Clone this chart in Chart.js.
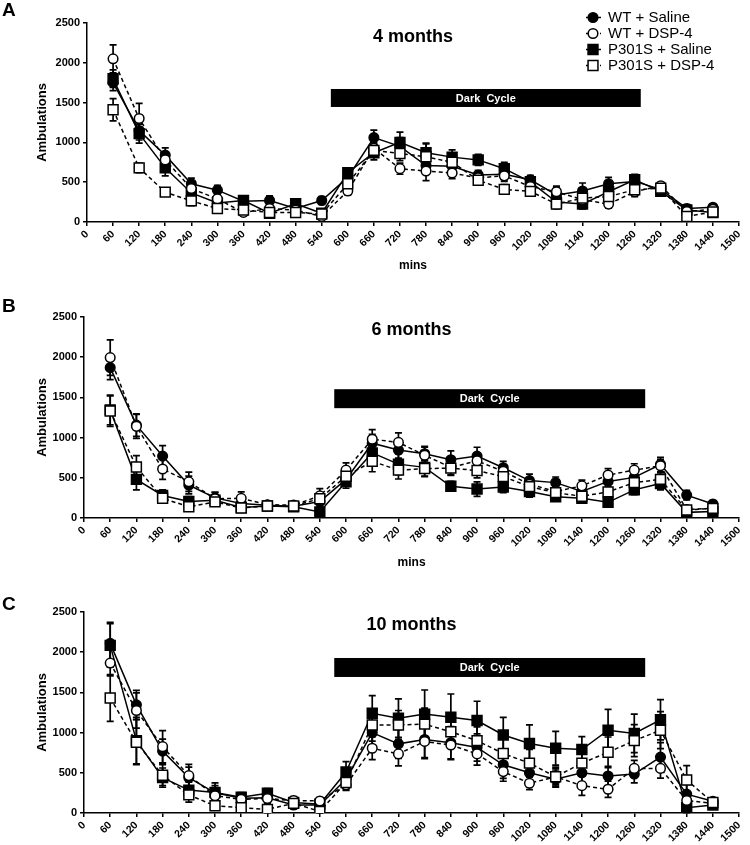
<!DOCTYPE html>
<html><head><meta charset="utf-8">
<script src="https://cdn.jsdelivr.net/npm/chart.js@4/dist/chart.umd.min.js"></script>
<style>
body{margin:0;background:#fff;width:750px;height:845px;overflow:hidden;position:relative}
canvas{position:absolute;left:0}
</style></head><body>
<canvas id="cA" width="750" height="282" style="top:0px"></canvas>
<canvas id="cB" width="750" height="295" style="top:282px"></canvas>
<canvas id="cC" width="750" height="268" style="top:577px"></canvas>
<script>
// ---- data ----
const times = [60,120,180,240,300,360,420,480,540,600,660,720,780,840,900,960,1020,1080,1140,1200,1260,1320,1380,1440];
const seriesLabels = ['WT + Saline','WT + DSP-4','P301S + Saline','P301S + DSP-4'];
const panelTitles = ['4 months','6 months','10 months'];
const panelLetters = ['A','B','C'];

const A_wtSal = [1750,1150,840,480,400,260,270,170,270,560,1060,950,710,700,590,600,530,340,390,480,510,410,170,185];
const A_wtDsp = [2050,1300,780,420,290,120,170,150,70,390,925,670,640,615,555,580,445,380,280,225,380,455,130,160];
const A_pSal  = [1800,1110,680,365,240,270,110,230,110,620,870,1000,870,815,780,670,505,250,225,380,530,385,150,120];
const A_pDsp  = [1410,680,375,265,170,150,120,120,100,480,900,860,820,750,525,410,385,225,300,320,405,425,70,125];
const errA_wtSal = [100,120,90,70,60,50,60,45,50,60,95,110,110,80,60,70,55,90,100,80,60,50,50,30];
const errA_wtDsp = [175,190,100,70,60,40,50,40,30,50,70,70,120,70,60,70,50,70,80,50,60,40,40,30];
const errA_pSal  = [110,120,100,60,50,60,40,50,40,60,90,130,120,90,70,80,60,60,60,80,70,60,50,30];
const errA_pDsp  = [140,60,40,60,30,30,30,30,30,60,80,90,160,100,60,60,50,60,70,60,50,40,30,30];

const B_wtSal = [1870,1155,770,410,250,180,160,145,205,480,930,845,800,725,770,625,465,440,330,455,505,665,285,175];
const B_wtDsp = [1995,1140,610,450,240,245,165,160,275,595,980,940,780,630,710,580,420,330,400,535,595,650,105,120];
const B_pSal  = [1345,480,280,205,220,130,150,140,75,450,810,670,630,395,360,385,330,265,245,195,350,430,70,80];
const B_pDsp  = [1330,635,245,140,200,125,150,150,240,520,705,595,615,620,590,515,390,315,270,325,440,480,100,120];
const errB_wtSal = [150,140,130,110,70,60,40,40,60,60,110,100,90,110,110,80,80,70,60,80,90,90,60,40];
const errB_wtDsp = [220,150,130,120,80,80,40,40,90,90,120,120,100,100,100,80,80,60,70,80,80,80,40,30];
const errB_pSal  = [185,130,70,60,60,50,40,40,30,80,130,130,110,60,90,70,70,50,60,40,60,80,30,30];
const errB_pDsp  = [190,140,60,50,50,40,40,40,60,70,130,110,100,80,90,70,60,50,60,70,70,80,40,30];

const C_wtSal = [2110,1345,770,440,250,185,190,100,100,420,1000,860,915,875,815,600,500,420,500,460,485,695,235,145];
const C_wtDsp = [1865,1275,825,465,215,170,180,155,150,350,805,735,890,845,735,515,370,450,340,295,555,555,155,120];
const C_pSal  = [2085,900,440,285,255,195,245,130,110,510,1240,1180,1230,1190,1150,970,865,805,790,1030,990,1160,65,100];
const C_pDsp  = [1430,880,470,225,90,65,45,120,20,380,1095,1095,1105,1010,900,740,620,450,620,755,900,1030,410,130];
const errC_wtSal = [260,180,150,130,90,60,60,50,50,90,200,180,240,200,170,170,130,100,120,120,110,180,120,40];
const errC_wtDsp = [160,220,200,140,80,60,60,50,40,70,140,150,200,180,140,120,80,100,120,100,100,120,80,40];
const errC_pSal  = [270,290,120,100,120,60,60,60,60,130,220,240,300,290,240,220,230,210,160,260,240,250,60,40];
const errC_pDsp  = [290,280,130,90,50,40,40,40,30,90,200,180,200,200,170,200,170,120,160,190,200,230,180,40];

// dark cycle band: [xStart, xEnd, yLow, yHigh] in data units
const darkA = [561,1274,1445,1671];
const darkB = [573,1285,1366,1602];
const darkC = [573,1285,1692,1928];

// ---- styling ----
const FONT = "Arial, 'Liberation Sans', sans-serif";
const styles = [
  {pointStyle:'circle', pointRadius:4.8, fill:'#000', dash:[]},
  {pointStyle:'circle', pointRadius:4.8, fill:'#fff', dash:[4,3]},
  {pointStyle:'rect', pointRadius:7, fill:'#000', dash:[]},
  {pointStyle:'rect', pointRadius:7, fill:'#fff', dash:[4,3]}
];

function drawMarker(ctx, st, x, y){
  ctx.save();
  ctx.setLineDash([]);
  ctx.fillStyle = st.fill; ctx.strokeStyle = '#000'; ctx.lineWidth = 1.5;
  ctx.beginPath();
  if (st.pointStyle === 'circle') ctx.arc(x, y, st.pointRadius, 0, Math.PI*2);
  else { const s = st.pointRadius*Math.SQRT1_2; ctx.rect(x-s, y-s, 2*s, 2*s); }
  ctx.fill(); ctx.stroke();
  ctx.restore();
}

const errorBars = {
  id:'errorBars',
  beforeDatasetsDraw(chart){
    const {ctx} = chart; const xs = chart.scales.x, ys = chart.scales.y;
    ctx.save();
    ctx.strokeStyle = '#000'; ctx.lineWidth = 1.7; ctx.setLineDash([]);
    chart.data.datasets.forEach(ds => {
      ds.data.forEach((p, j) => {
        const e = ds.errors[j];
        const px = xs.getPixelForValue(p.x);
        const t = ys.getPixelForValue(p.y + e);
        const b = ys.getPixelForValue(Math.max(0, p.y - e));
        ctx.beginPath();
        ctx.moveTo(px, t); ctx.lineTo(px, b);
        ctx.moveTo(px-3.5, t); ctx.lineTo(px+3.5, t);
        ctx.moveTo(px-3.5, b); ctx.lineTo(px+3.5, b);
        ctx.stroke();
      });
    });
    ctx.restore();
  }
};

const deco = {
  id:'deco',
  beforeDatasetsDraw(chart, args, o){
    const ctx = chart.ctx; const xs = chart.scales.x, ys = chart.scales.y;
    const x0 = xs.getPixelForValue(o.bar[0]), x1 = xs.getPixelForValue(o.bar[1]);
    const y0 = ys.getPixelForValue(o.bar[3]), y1 = ys.getPixelForValue(o.bar[2]);
    ctx.save();
    ctx.fillStyle = '#000'; ctx.fillRect(x0, y0, x1-x0, y1-y0);
    ctx.fillStyle = '#fff'; ctx.font = 'bold 11px ' + FONT;
    ctx.textAlign = 'center'; ctx.textBaseline = 'middle';
    ctx.fillText('Dark  Cycle', (x0+x1)/2, (y0+y1)/2 + 0.5);
    ctx.restore();
  },
  afterDraw(chart, args, o){
    const ctx = chart.ctx; const ca = chart.chartArea;
    ctx.save();
    ctx.fillStyle = '#000';
    ctx.textBaseline = 'alphabetic';
    ctx.font = 'bold 18px ' + FONT; ctx.textAlign = 'center';
    ctx.fillText(o.title, (ca.left+ca.right)/2, o.titleY);
    ctx.textAlign = 'left'; ctx.font = 'bold 19px ' + FONT;
    ctx.fillText(o.letter, 2, o.letterY);
    if (o.legend) {
      ctx.font = '15px ' + FONT; ctx.textBaseline = 'middle';
      seriesLabels.forEach((lab, i) => {
        const ly = 17.5 + i*16;
        const st = styles[i];
        ctx.strokeStyle = '#000'; ctx.lineWidth = 1.5; ctx.setLineDash(st.dash);
        ctx.beginPath(); ctx.moveTo(586, ly); ctx.lineTo(601, ly); ctx.stroke();
        drawMarker(ctx, st, 593, ly);
        ctx.fillStyle = '#000';
        ctx.fillText(lab, 608, ly + 0.5);
      });
    }
    ctx.restore();
  }
};

function makePanel(id, series, errs, cfg){
  const datasets = series.map((vals, i) => ({
    label: seriesLabels[i],
    data: times.map((t, j) => ({x: t, y: vals[j]})),
    errors: errs[i],
    borderColor: '#000', borderWidth: 1.5, borderDash: styles[i].dash,
    pointStyle: styles[i].pointStyle, pointRadius: styles[i].pointRadius,
    pointBackgroundColor: styles[i].fill, pointBorderColor: '#000', pointBorderWidth: 1.5,
    pointHoverRadius: styles[i].pointRadius,
    tension: 0, fill: false
  }));
  const ordered = [datasets[3], datasets[1], datasets[2], datasets[0]];
  const axisCommon = {
    grid: {display:true, drawOnChartArea:false, drawTicks:true, tickLength:4, color:'#000', lineWidth:1.5},
    border: {display:true, color:'#000', width:1.5}
  };
  const plain = v => String(v);
  return new Chart(document.getElementById(id), {
    type: 'line',
    data: {datasets: ordered},
    options: {
      responsive:false, animation:false, devicePixelRatio:1,
      layout: {padding: cfg.pad},
      plugins: {legend:{display:false}, tooltip:{enabled:false},
        deco: {bar: cfg.bar, title: cfg.title, titleY: cfg.titleY, letter: cfg.letter, letterY: cfg.letterY, legend: cfg.legend}},
      scales: {
        x: Object.assign({
          type:'linear', min:0, max:1500,
          afterFit(s){ s.height = cfg.hx; },
          ticks: {stepSize:60, autoSkip:false, maxRotation:45, minRotation:45, padding:2, color:'#000',
                  callback: plain, font:{family:FONT, weight:'bold', size:10.5}},
          title: {display: cfg.showX, text:'mins', color:'#000', font:{family:FONT, weight:'bold', size:12}, padding:{top:4, bottom:4}}
        }, axisCommon),
        y: Object.assign({
          type:'linear', min:0, max:2500,
          afterFit(s){ s.width = cfg.wy; },
          ticks: {stepSize:500, padding:3, color:'#000', callback: plain, font:{family:FONT, weight:'bold', size:11}},
          title: {display:true, text:'Ambulations', color:'#000', font:{family:FONT, weight:'bold', size:13}, padding:{top:4, bottom:4}}
        }, axisCommon)
      }
    },
    plugins: [errorBars, deco]
  });
}

makePanel('cA', [A_wtSal, A_wtDsp, A_pSal, A_pDsp], [errA_wtSal, errA_wtDsp, errA_pSal, errA_pDsp],
  {pad:{left:31, right:11, top:23, bottom:5}, wy:56, hx:55, showX:true, bar:darkA,
   title:panelTitles[0], titleY:42, letter:panelLetters[0], letterY:16, legend:true});
makePanel('cB', [B_wtSal, B_wtDsp, B_pSal, B_pDsp], [errB_wtSal, errB_wtDsp, errB_pSal, errB_pDsp],
  {pad:{left:31, right:4, top:35, bottom:3}, wy:53, hx:56, showX:true, bar:darkB,
   title:panelTitles[1], titleY:53, letter:panelLetters[1], letterY:30, legend:false});
makePanel('cC', [C_wtSal, C_wtDsp, C_pSal, C_pDsp], [errC_wtSal, errC_wtDsp, errC_pSal, errC_pDsp],
  {pad:{left:31, right:4, top:35, bottom:0}, wy:53, hx:32, showX:false, bar:darkC,
   title:panelTitles[2], titleY:53, letter:panelLetters[2], letterY:33, legend:false});
</script>
</body></html>
